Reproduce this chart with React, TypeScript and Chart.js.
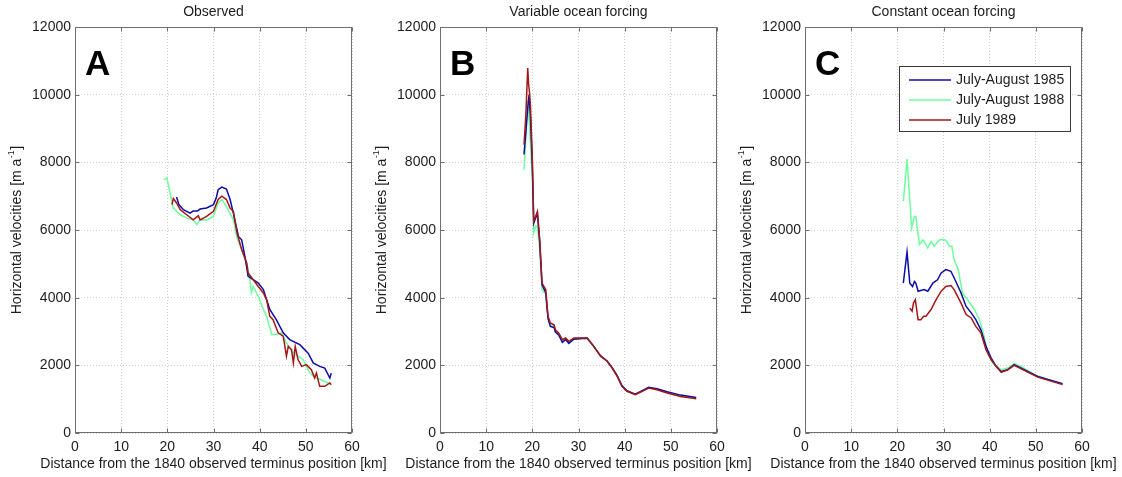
import { useEffect, useRef } from "react";
import { Chart, registerables } from "chart.js";

Chart.register(...registerables);

// ---------- data ----------
const xTickValues = [0, 10, 20, 30, 40, 50, 60];
const yTickValues = [0, 2000, 4000, 6000, 8000, 10000, 12000];
const seriesLabels = ["July-August 1985", "July-August 1988", "July 1989"];
const seriesColors = ["#0c0ca6", "#6dff9e", "#a51616"];
const panelTitles = ["Observed", "Variable ocean forcing", "Constant ocean forcing"];
const panelLetters = ["A", "B", "C"];
const xAxisTitle = "Distance from the 1840 observed terminus position [km]";
const yAxisTitleMain = "Horizontal velocities [m a";
const yAxisTitleSup = "-1";
const yAxisTitleEnd = "]";

type Pt = [number, number];

// Panel A – observed
const obs1985: Pt[] = [
  [22.0, 6975], [22.5, 6750], [23.5, 6600], [24.9, 6500], [25.6, 6560], [26.5, 6560], [27.1, 6620],
  [28.5, 6650], [30.0, 6750], [30.6, 6950], [31.0, 7190], [31.8, 7270], [32.8, 7210], [33.6, 6900],
  [34.3, 6500], [35.4, 5810], [36.1, 5710], [36.8, 5220], [37.5, 4630], [38.6, 4530], [39.7, 4430],
  [40.8, 4240], [42.2, 3650], [43.6, 3350], [45.1, 2960], [46.5, 2760], [48.7, 2610], [50.5, 2360],
  [51.6, 2070], [53.0, 1970], [54.1, 1920], [55.2, 1625], [55.5, 1770],
];
const obs1988: Pt[] = [
  [19.2, 7490], [19.9, 7540], [21.3, 6650], [22.8, 6450], [24.2, 6350], [25.6, 6300], [26.4, 6160],
  [27.1, 6300], [28.5, 6290], [30.0, 6400], [31.0, 6800], [31.8, 6900], [32.8, 6700], [34.3, 6300],
  [35.1, 5760], [36.1, 5420], [37.2, 5020], [37.9, 4530], [38.2, 4140], [38.6, 4330], [39.7, 4040],
  [40.8, 3650], [41.5, 3450], [42.6, 2910], [43.6, 2910], [44.7, 2960], [45.8, 2660], [47.3, 2360],
  [48.3, 2270], [49.4, 2170], [50.9, 1770], [52.3, 1625], [54.1, 1530], [55.5, 1430],
];
const obs1989: Pt[] = [
  [21.0, 6750], [21.3, 6930], [22.0, 6800], [22.8, 6600], [24.2, 6450], [25.6, 6300], [26.7, 6420],
  [27.1, 6300], [28.5, 6400], [30.0, 6550], [31.0, 6900], [31.8, 7000], [32.8, 6900], [33.6, 6650],
  [34.3, 6550], [35.1, 5910], [36.1, 5420], [37.2, 5020], [37.5, 4730], [38.6, 4530], [39.7, 4330],
  [40.8, 4140], [41.5, 3940], [42.2, 3450], [42.9, 3350], [44.0, 2960], [45.1, 2860], [45.8, 2270],
  [46.2, 2560], [46.9, 2460], [47.3, 2070], [47.7, 2560], [48.3, 2170], [49.1, 1970], [50.1, 2020],
  [51.2, 1870], [51.9, 1625], [52.3, 1770], [53.0, 1380], [54.1, 1380], [55.2, 1480], [55.5, 1430],
];

// Panel B – variable ocean forcing
const var1985: Pt[] = [
  [18.2, 8230], [18.6, 8900], [19.0, 9600], [19.3, 10000], [19.6, 9300], [20.0, 7900], [20.3, 6200],
  [20.7, 6350], [21.1, 6480], [21.6, 5650], [22.1, 4380], [22.9, 4150], [23.4, 3380], [23.9, 3150],
  [24.7, 3120], [25.0, 2980], [25.7, 2900], [26.5, 2680], [27.2, 2760], [27.9, 2650], [29.0, 2770],
  [29.7, 2780], [30.8, 2790], [31.9, 2800], [33.3, 2560], [34.8, 2280], [36.2, 2130], [37.3, 1930],
  [38.4, 1690], [39.4, 1400], [40.5, 1250], [42.3, 1150], [43.8, 1250], [45.2, 1350], [47.0, 1310],
  [49.2, 1220], [52.1, 1120], [55.5, 1050],
];
const var1988: Pt[] = [
  [18.2, 7780], [18.6, 8700], [19.0, 9850], [19.4, 9060], [20.0, 7490], [20.3, 5910], [20.7, 6110],
  [21.1, 6110], [21.6, 5420], [22.1, 4240], [22.9, 4100], [23.4, 3400], [23.9, 3200], [24.7, 3150],
  [25.0, 3000], [25.7, 2920], [26.5, 2720], [27.2, 2780], [27.9, 2680], [29.0, 2790], [29.7, 2790],
  [30.8, 2800], [31.9, 2800], [33.3, 2560], [34.8, 2270], [36.2, 2120], [37.3, 1920], [38.4, 1680],
  [39.4, 1390], [40.5, 1240], [42.3, 1140], [43.8, 1240], [45.2, 1340], [47.0, 1290], [49.2, 1200],
  [52.1, 1100], [55.5, 1030],
];
const var1989: Pt[] = [
  [18.2, 8520], [18.6, 9400], [19.0, 10790], [19.2, 10300], [19.4, 10050], [19.6, 9650], [20.0, 8080],
  [20.3, 6260], [20.7, 6400], [21.1, 6550], [21.6, 5710], [22.1, 4430], [22.9, 4240], [23.4, 3450],
  [23.9, 3250], [24.7, 3200], [25.0, 3050], [25.7, 2960], [26.5, 2760], [27.2, 2810], [27.9, 2710],
  [29.0, 2810], [29.7, 2810], [30.8, 2810], [31.9, 2810], [33.3, 2560], [34.8, 2270], [36.2, 2120],
  [37.3, 1920], [38.4, 1670], [39.4, 1380], [40.5, 1230], [42.3, 1130], [43.8, 1230], [45.2, 1330],
  [47.0, 1280], [49.2, 1180], [52.1, 1080], [55.5, 1015],
];

// Panel C – constant ocean forcing
const const1985: Pt[] = [
  [21.3, 4430], [22.1, 5350], [22.7, 4430], [23.3, 4330], [23.7, 4480], [24.0, 4430], [24.5, 4190],
  [25.8, 4240], [26.6, 4190], [27.7, 4430], [28.7, 4530], [29.5, 4730], [30.5, 4830], [31.6, 4780],
  [32.5, 4530], [33.8, 4140], [34.9, 3740], [36.0, 3550], [37.0, 3350], [38.1, 3050], [39.2, 2560],
  [40.3, 2220], [41.4, 1970], [42.5, 1820], [43.9, 1870], [45.3, 2020], [47.5, 1870], [50.4, 1670],
  [55.8, 1460],
];
const const1988: Pt[] = [
  [21.3, 6850], [22.1, 8100], [22.6, 7090], [23.1, 6060], [23.7, 6400], [24.0, 6400], [24.8, 5570],
  [25.6, 5710], [26.6, 5470], [27.3, 5660], [28.0, 5520], [29.1, 5710], [30.2, 5710], [30.7, 5660],
  [31.3, 5520], [31.8, 5520], [32.3, 5120], [33.2, 4830], [34.1, 4140], [35.2, 3940], [36.7, 3650],
  [37.8, 3350], [38.8, 2860], [39.6, 2360], [40.6, 2070], [42.5, 1870], [43.9, 1920], [45.3, 2050],
  [46.8, 1970], [49.7, 1725], [52.6, 1580], [55.8, 1460],
];
const const1989: Pt[] = [
  [22.7, 3690], [23.2, 3600], [23.5, 3840], [23.9, 3940], [24.2, 3640], [24.5, 3350], [25.1, 3350],
  [25.7, 3450], [26.2, 3450], [27.3, 3650], [28.4, 3940], [29.5, 4190], [30.5, 4330], [31.6, 4360],
  [32.3, 4240], [33.8, 3840], [34.9, 3500], [36.0, 3400], [37.0, 3150], [38.1, 2960], [39.2, 2460],
  [40.3, 2170], [41.4, 1970], [42.5, 1790], [43.9, 1870], [45.3, 2000], [47.5, 1850], [50.4, 1650],
  [55.8, 1430],
];

const panelSeries: Pt[][][] = [
  [obs1985, obs1988, obs1989],
  [var1985, var1988, var1989],
  [const1985, const1988, const1989],
];
const seriesDrawOrder = [1, 2, 0];

// ---------- layout ----------
const PAGE_W = 1122;
const PAGE_H = 477;
const PANEL_STEP = 365;
const AXIS_W = 75;
const PLOT_W = 277;
const FONT = "'Liberation Sans', Arial, Helvetica, sans-serif";
const TEXT_COLOR = "#1c1c1c";
const BOX_COLOR = "#6e6e6e";

const decorPlugin = {
  id: "decor",
  afterDraw(chart: any, _args: any, opts: any) {
    const { ctx, chartArea: a, scales } = chart;
    const L = Math.round(a.left) + 0.5;
    const R = Math.round(a.right) - 0.5;
    const T = Math.round(a.top) + 0.5;
    const B = Math.round(a.bottom) - 0.5;
    ctx.save();
    // box
    ctx.strokeStyle = BOX_COLOR;
    ctx.lineWidth = 1;
    ctx.setLineDash([]);
    ctx.strokeRect(L, T, R - L, B - T);
    // inward ticks
    const tl = 4;
    ctx.beginPath();
    for (const t of scales.x.ticks) {
      const px = Math.round(scales.x.getPixelForValue(t.value)) + 0.5;
      ctx.moveTo(px, B);
      ctx.lineTo(px, B - tl);
      ctx.moveTo(px, T);
      ctx.lineTo(px, T + tl);
    }
    for (const t of scales.y.ticks) {
      const py = Math.round(scales.y.getPixelForValue(t.value)) + 0.5;
      ctx.moveTo(L, py);
      ctx.lineTo(L + tl, py);
      ctx.moveTo(R, py);
      ctx.lineTo(R - tl, py);
    }
    ctx.stroke();

    // panel title
    const cx = (a.left + a.right) / 2;
    ctx.fillStyle = TEXT_COLOR;
    ctx.font = `14px ${FONT}`;
    ctx.textAlign = "center";
    ctx.textBaseline = "middle";
    ctx.fillText(opts.title, cx, 12);

    // x axis title
    ctx.font = `14px ${FONT}`;
    ctx.fillText(xAxisTitle, cx, 464);

    // y axis title with superscript
    const cy = (a.top + a.bottom) / 2;
    ctx.save();
    ctx.translate(a.left - 58, cy);
    ctx.rotate(-Math.PI / 2);
    ctx.textAlign = "left";
    ctx.textBaseline = "middle";
    ctx.font = `14px ${FONT}`;
    const w1 = ctx.measureText(yAxisTitleMain).width;
    const w3 = ctx.measureText(yAxisTitleEnd).width;
    ctx.font = `9px ${FONT}`;
    const w2 = ctx.measureText(yAxisTitleSup).width;
    let x0 = -(w1 + w2 + w3 + 1) / 2;
    ctx.font = `14px ${FONT}`;
    ctx.fillText(yAxisTitleMain, x0, 0);
    x0 += w1 + 0.5;
    ctx.font = `9px ${FONT}`;
    ctx.fillText(yAxisTitleSup, x0, -5);
    x0 += w2 + 0.5;
    ctx.font = `14px ${FONT}`;
    ctx.fillText(yAxisTitleEnd, x0, 0);
    ctx.restore();

    // big letter
    ctx.font = `bold 35px ${FONT}`;
    ctx.textAlign = "left";
    ctx.textBaseline = "alphabetic";
    ctx.fillStyle = "#000";
    ctx.fillText(opts.letter, a.left + 10, 75);

    // legend
    if (opts.legend) {
      const lx = Math.round(a.left) + 94.5;
      const ly = 66.5;
      const lw = 171;
      const lh = 65;
      ctx.fillStyle = "#fff";
      ctx.fillRect(lx, ly, lw, lh);
      ctx.strokeStyle = "#3a3a3a";
      ctx.lineWidth = 1;
      ctx.strokeRect(lx, ly, lw, lh);
      ctx.font = `14px ${FONT}`;
      ctx.textBaseline = "middle";
      chart.data.datasets.forEach((ds: any, i: number) => {
        const y = 80 + i * 20;
        ctx.strokeStyle = ds.borderColor;
        ctx.lineWidth = 1.5;
        ctx.beginPath();
        ctx.moveTo(lx + 9.5, y);
        ctx.lineTo(lx + 51.5, y);
        ctx.stroke();
        ctx.fillStyle = TEXT_COLOR;
        ctx.fillText(ds.label, lx + 56.5, y + 0.5);
      });
    }
    ctx.restore();
  },
};

function Panel({ index }: { index: number }) {
  const ref = useRef<HTMLCanvasElement | null>(null);
  useEffect(() => {
    if (!ref.current) return;
    const datasets = panelSeries[index].map((pts, i) => ({
      label: seriesLabels[i],
      data: pts.map(([x, y]) => ({ x, y })),
      borderColor: seriesColors[i],
      backgroundColor: seriesColors[i],
      borderWidth: 1.5,
      pointRadius: 0,
      tension: 0,
      fill: false,
      order: seriesDrawOrder[i],
    }));
    const tickFont = { size: 14, family: FONT };
    const padLeft = index * PANEL_STEP;
    const padRight = PAGE_W - (padLeft + AXIS_W + PLOT_W);
    const chart = new Chart(ref.current, {
      type: "line",
      data: { datasets },
      plugins: [decorPlugin],
      options: {
        responsive: false,
        animation: false,
        events: [],
        layout: { padding: { top: 27, right: padRight, left: padLeft, bottom: 0 } },
        plugins: {
          legend: { display: false },
          tooltip: { enabled: false },
          title: { display: false },
          decor: { title: panelTitles[index], letter: panelLetters[index], legend: index === 2 },
        } as any,
        scales: {
          x: {
            type: "linear",
            min: 0,
            max: 60,
            afterBuildTicks: (s: any) => {
              s.ticks = xTickValues.map((v) => ({ value: v }));
            },
            afterFit: (s: any) => {
              s.height = 44;
            },
            grid: { color: "#cfcfcf", lineWidth: 1, drawTicks: false },
            border: { display: false, dash: [1, 2] },
            ticks: {
              padding: 6,
              color: TEXT_COLOR,
              font: tickFont,
              maxRotation: 0,
              autoSkip: false,
              callback: (v: any) => String(v),
            },
          },
          y: {
            type: "linear",
            min: 0,
            max: 12000,
            afterBuildTicks: (s: any) => {
              s.ticks = yTickValues.map((v) => ({ value: v }));
            },
            afterFit: (s: any) => {
              s.width = AXIS_W;
            },
            grid: { color: "#cfcfcf", lineWidth: 1, drawTicks: false },
            border: { display: false, dash: [1, 2] },
            ticks: {
              padding: 4,
              color: TEXT_COLOR,
              font: tickFont,
              autoSkip: false,
              callback: (v: any) => String(v),
            },
          },
        },
      } as any,
    });
    return () => chart.destroy();
  }, [index]);
  return (
    <canvas
      ref={ref}
      width={PAGE_W}
      height={PAGE_H}
      style={{ position: "absolute", left: 0, top: 0, width: PAGE_W, height: PAGE_H }}
    />
  );
}

export default function App() {
  return (
    <div style={{ position: "fixed", left: 0, top: 0, width: PAGE_W, height: PAGE_H, background: "#fff" }}>
      <Panel index={0} />
      <Panel index={1} />
      <Panel index={2} />
    </div>
  );
}
